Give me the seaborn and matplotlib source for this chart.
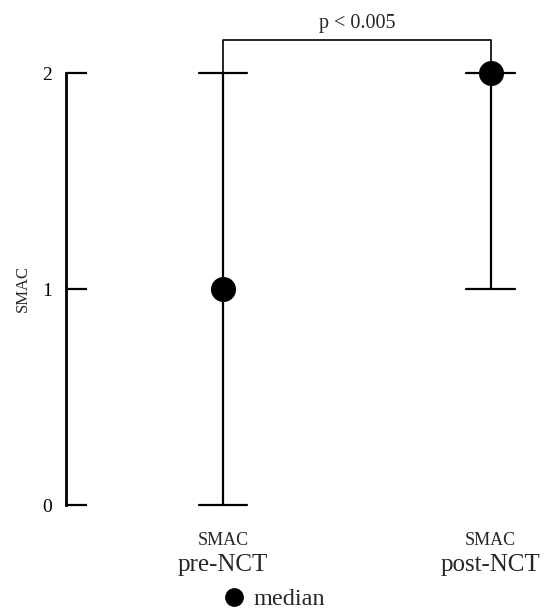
import numpy as np
import pandas as pd
import matplotlib
matplotlib.use("Agg")
import matplotlib.pyplot as plt
from matplotlib.lines import Line2D
import seaborn as sns

groups = ["pre-NCT", "post-NCT"]
group_prefix = ["SMAC", "SMAC"]
lows = [0, 1]
medians = [1, 2]
highs = [2, 2]
yticks = [0, 1, 2]
p_text = "p < 0.005"

sns.set_theme(style="white")
plt.rcParams["font.family"] = ["Liberation Serif", "DejaVu Serif"]

rows = []
for g, lo, md, hi in zip(groups, lows, medians, highs):
    for v in (lo, md, hi):
        rows.append({"group": g, "value": v})
df = pd.DataFrame(rows)

fig = plt.figure(figsize=(5.46, 6.13), dpi=100)
ax = fig.add_axes([66/546, 108/613, 478/546, 432/613])

sns.pointplot(data=df, x="group", y="value", order=groups,
              estimator=np.median,
              errorbar=lambda v: (v.min(), v.max()),
              linestyle="none", color="black", markers="o",
              markersize=16, capsize=0.18,
              err_kws={"linewidth": 1.6}, ax=ax)
for art in list(ax.lines) + list(ax.collections):
    art.set_clip_on(False)

ax.set_xlim(-0.588, 1.2)
ax.set_ylim(0, 2)
for s in ["top", "right", "bottom"]:
    ax.spines[s].set_visible(False)
ax.spines["left"].set_linewidth(2)
ax.spines["left"].set_color("black")
ax.set_yticks(yticks)
ax.set_yticklabels([str(t) for t in yticks], fontsize=14)
ax.tick_params(axis="y", direction="in", length=15, width=1.6, colors="black", pad=10, left=True)
ax.set_xticks([])
ax.set_xlabel("")
ax.set_ylabel("SMAC", fontsize=12, labelpad=8)

# significance bracket
ybr = 2.153
ax.plot([0, 0, 1, 1], [highs[0], ybr, ybr, highs[1]], color="black", lw=1.2, clip_on=False, zorder=0)
ax.text(0.5, ybr + 0.03, p_text, ha="center", va="bottom", fontsize=14.5)

# category labels
for i, (pre, g) in enumerate(zip(group_prefix, groups)):
    ax.text(i, -0.165, pre, ha="center", va="center", fontsize=13,
            transform=ax.transData, clip_on=False)
    ax.text(i, -0.28, g, ha="center", va="center", fontsize=18,
            transform=ax.transData, clip_on=False)

handle = Line2D([], [], marker="o", color="black", linestyle="none", markersize=12.5)
fig.legend(handles=[handle], labels=["median"], loc="center left", bbox_to_anchor=(222/546, 1 - 599/613),
           frameon=False, fontsize=17.5, handletextpad=0.3, borderpad=0, borderaxespad=0,
           handlelength=1.0)

fig.savefig("out.png", dpi=100)
